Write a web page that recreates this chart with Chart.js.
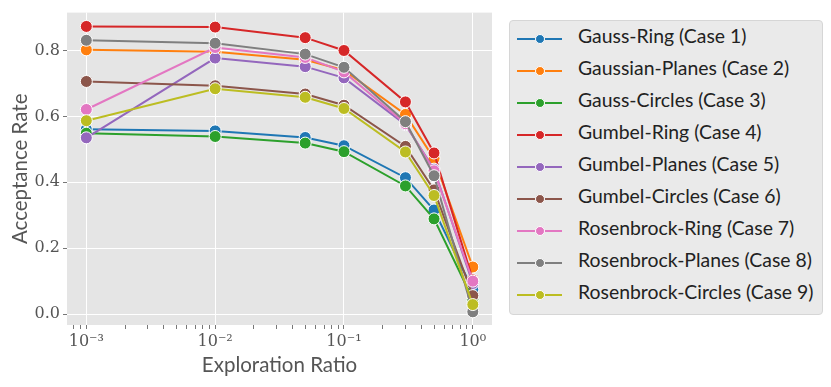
<!DOCTYPE html>
<html>
<head>
<meta charset="utf-8">
<script src="https://cdn.jsdelivr.net/npm/chart.js@4.4.1/dist/chart.umd.min.js"></script>
<style>
  html, body { margin: 0; padding: 0; background: #fff; }
  #wrap { position: relative; width: 831px; height: 387px; }
  #chart { position: absolute; left: 0; top: 0; }
  #legend {
    position: absolute; left: 509px; top: 20px; width: 312px; height: 293px;
    background: #eaeaea; border: 1px solid #d6d6d6; border-radius: 4px;
    font-family: Lato, sans-serif; font-size: 19.4px; color: #222;
  }
  .item { position: absolute; left: 0; height: 32px; width: 100%; }
  .item .ln { position: absolute; left: 7px; top: 15px; width: 45px; height: 2px; }
  .item .dot { position: absolute; left: 25px; top: 11px; width: 8px; height: 8px;
    border-radius: 50%; border: 1px solid #fff; }
  .item .tx { position: absolute; left: 68px; top: 1px; white-space: nowrap; }
</style>
</head>
<body>
<div id="wrap">
  <canvas id="chart" width="831" height="387"></canvas>
  <div id="legend"></div>
</div>
<script>
// Exploration ratios (x) and acceptance rates per case
const ratios = [0.001, 0.01, 0.05, 0.1, 0.3, 0.5, 1.0];
const caseLabels = [
  'Gauss-Ring (Case 1)', 'Gaussian-Planes (Case 2)', 'Gauss-Circles (Case 3)',
  'Gumbel-Ring (Case 4)', 'Gumbel-Planes (Case 5)', 'Gumbel-Circles (Case 6)',
  'Rosenbrock-Ring (Case 7)', 'Rosenbrock-Planes (Case 8)', 'Rosenbrock-Circles (Case 9)'
];
const case1 = [0.561, 0.556, 0.536, 0.511, 0.414, 0.316, 0.074];
const case2 = [0.802, 0.796, 0.772, 0.740, 0.606, 0.472, 0.143];
const case3 = [0.549, 0.539, 0.519, 0.493, 0.389, 0.289, 0.045];
const case4 = [0.873, 0.871, 0.839, 0.800, 0.644, 0.489, 0.104];
const case5 = [0.535, 0.777, 0.751, 0.717, 0.575, 0.440, 0.093];
const case6 = [0.706, 0.693, 0.668, 0.634, 0.509, 0.377, 0.056];
const case7 = [0.621, 0.809, 0.779, 0.735, 0.578, 0.435, 0.100];
const case8 = [0.831, 0.822, 0.789, 0.749, 0.584, 0.420, 0.007];
const case9 = [0.587, 0.684, 0.658, 0.624, 0.492, 0.360, 0.029];
const yTicks = [0.0, 0.2, 0.4, 0.6, 0.8];
const xMajor = [0.001, 0.01, 0.1, 1];
const xTickLabels = ['10\u207B\u00B3', '10\u207B\u00B2', '10\u207B\u00B9', '10\u2070'];

const colors = ['#1f77b4', '#ff7f0e', '#2ca02c', '#d62728', '#9467bd',
                '#8c564b', '#e377c2', '#7f7f7f', '#bcbd22'];
const allCases = [case1, case2, case3, case4, case5, case6, case7, case8, case9];

function isMajor(v) {
  return xMajor.some(m => Math.abs(v - m) / m < 1e-6);
}

// background of the plot area
const plotBg = {
  id: 'plotBg',
  beforeDraw(chart) {
    const a = chart.chartArea, c = chart.ctx;
    c.save();
    c.fillStyle = '#e5e5e5';
    c.fillRect(a.left, a.top, a.right - a.left, a.bottom - a.top);
    c.restore();
  }
};

const datasets = allCases.map((vals, i) => ({
  label: caseLabels[i],
  data: ratios.map((x, j) => ({ x: x, y: vals[j] })),
  borderColor: colors[i],
  backgroundColor: colors[i],
  pointBackgroundColor: colors[i],
  pointBorderColor: '#ffffff',
  pointBorderWidth: 1,
  pointRadius: 6,
  borderWidth: 2,
  tension: 0,
  order: 9 - i
}));

new Chart(document.getElementById('chart'), {
  type: 'line',
  data: { datasets: datasets },
  options: {
    responsive: false,
    animation: false,
    layout: { padding: { left: 0, right: 339, top: 9, bottom: 0 } },
    plugins: { legend: { display: false }, tooltip: { enabled: false } },
    scales: {
      x: {
        type: 'logarithmic',
        min: Math.pow(10, -3.15),
        max: Math.pow(10, 0.149),
        afterBuildTicks(scale) {
          const t = [];
          for (let e = -4; e <= 0; e++) {
            for (let k = 1; k <= 9; k++) {
              const v = k * Math.pow(10, e);
              if (v >= scale.min && v <= scale.max) t.push({ value: v });
            }
          }
          scale.ticks = t;
        },
        afterFit(scale) { scale.height = 62; },
        border: { display: false },
        grid: {
          color: ctx => (ctx.tick && isMajor(ctx.tick.value)) ? '#ffffff' : 'rgba(0,0,0,0)',
          lineWidth: 1,
          drawTicks: true,
          tickLength: 4,
          tickColor: '#777'
        },
        ticks: {
          autoSkip: false,
          maxRotation: 0,
          padding: 3,
          color: '#555',
          font: { family: '"DejaVu Serif", serif', size: 16 },
          callback(v) {
            const i = xMajor.findIndex(m => Math.abs(v - m) / m < 1e-6);
            return i >= 0 ? xTickLabels[i] : '';
          }
        },
        title: {
          display: true,
          text: 'Exploration Ratio',
          color: '#555',
          font: { family: 'Lato, sans-serif', size: 20.5 },
          padding: { top: 0, bottom: 9 }
        }
      },
      y: {
        min: -0.033,
        max: 0.915,
        afterBuildTicks(scale) { scale.ticks = yTicks.map(v => ({ value: v })); },
        afterFit(scale) { scale.width = 67; },
        border: { display: false },
        grid: { color: '#ffffff', lineWidth: 1, tickLength: 4, tickColor: '#777' },
        ticks: {
          color: '#555',
          padding: 3,
          font: { family: '"DejaVu Serif", serif', size: 16 },
          callback: v => v.toFixed(1)
        },
        title: {
          display: true,
          text: 'Acceptance Rate',
          color: '#555',
          font: { family: 'Lato, sans-serif', size: 20.5 },
          padding: { top: 8, bottom: 0 }
        }
      }
    }
  },
  plugins: [plotBg]
});

// legend
const legendEl = document.getElementById('legend');
caseLabels.forEach((label, i) => {
  const item = document.createElement('div');
  item.className = 'item';
  item.style.top = (2 + 32 * i) + 'px';
  item.innerHTML = '<div class="ln" style="background:' + colors[i] + '"></div>' +
    '<div class="dot" style="background:' + colors[i] + '"></div>' +
    '<div class="tx">' + label + '</div>';
  legendEl.appendChild(item);
});
</script>
</body>
</html>
